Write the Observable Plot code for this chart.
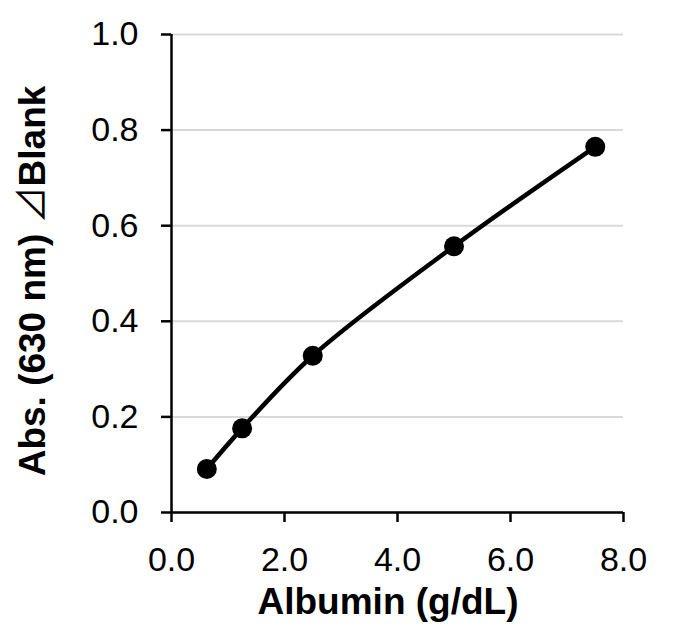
<!DOCTYPE html>
<html>
<head>
<meta charset="utf-8">
<script src="https://cdn.jsdelivr.net/npm/d3@7"></script>
<script src="https://cdn.jsdelivr.net/npm/@observablehq/plot@0.6"></script>
<style>
  html, body { margin: 0; padding: 0; background: #fff; }
  #chart svg { display: block; }
</style>
</head>
<body>
<div id="chart"></div>
<script>
const albumin = [0.625, 1.25, 2.5, 5, 7.5];
const absorbance = [0.091, 0.176, 0.328, 0.557, 0.765];
const xTicks = [0, 2, 4, 6, 8];
const yTicks = [0, 0.2, 0.4, 0.6, 0.8, 1.0];
const xTitle = "Albumin (g/dL)";
const yTitleMain = "Abs. (630 nm) ";
const yTitleSymbol = "\u22BF";
const yTitleEnd = "Blank";

const data = albumin.map((x, i) => ({x, y: absorbance[i]}));

const font = "'Liberation Sans', Arial, sans-serif";

const chart = Plot.plot({
  width: 700,
  height: 640,
  marginLeft: 171,
  marginRight: 77,
  marginTop: 34,
  marginBottom: 128,
  style: {fontFamily: font, fontSize: "34px", color: "#000", background: "#fff"},
  x: {domain: [0, 8]},
  y: {domain: [0, 1]},
  marks: [
    Plot.gridY(yTicks, {stroke: "#d9d9d9", strokeOpacity: 1, strokeWidth: 2}),
    Plot.axisY(yTicks, {
      tickSize: 10, tickPadding: 23, strokeWidth: 2.5,
      tickFormat: d => d.toFixed(1),
      label: null,
      fontSize: 34
    }),
    Plot.axisX(xTicks, {
      tickSize: 10, tickPadding: 24, strokeWidth: 2.5,
      tickFormat: d => d.toFixed(1),
      label: null,
      fontSize: 34
    }),
    Plot.ruleX([0], {stroke: "#000", strokeWidth: 2.5}),
    Plot.ruleY([0], {stroke: "#000", strokeWidth: 2.5}),
    Plot.line(data, {x: "x", y: "y", curve: "catmull-rom", stroke: "#000", strokeWidth: 4.5}),
    Plot.dot(data, {x: "x", y: "y", r: 10, fill: "#000", stroke: "none"})
  ]
});

document.getElementById("chart").appendChild(chart);
const svg = d3.select(chart);

// x axis title
svg.append("text")
  .attr("x", 388)
  .attr("y", 614)
  .attr("text-anchor", "middle")
  .attr("font-family", font)
  .attr("font-weight", "bold")
  .attr("font-size", 37)
  .attr("fill", "#000")
  .text(xTitle);

// y axis title (rotated)
const yt = svg.append("text")
  .attr("transform", "translate(45,281) rotate(-90)")
  .attr("text-anchor", "middle")
  .attr("font-family", font)
  .attr("font-weight", "bold")
  .attr("font-size", 37)
  .attr("fill", "#000");
yt.append("tspan").text(yTitleMain);
yt.append("tspan")
  .attr("font-family", "'Noto Sans CJK JP', 'DejaVu Sans', sans-serif")
  .attr("font-weight", "normal")
  .attr("font-size", 37)
  .text(yTitleSymbol);
yt.append("tspan").text(yTitleEnd);
</script>
</body>
</html>
